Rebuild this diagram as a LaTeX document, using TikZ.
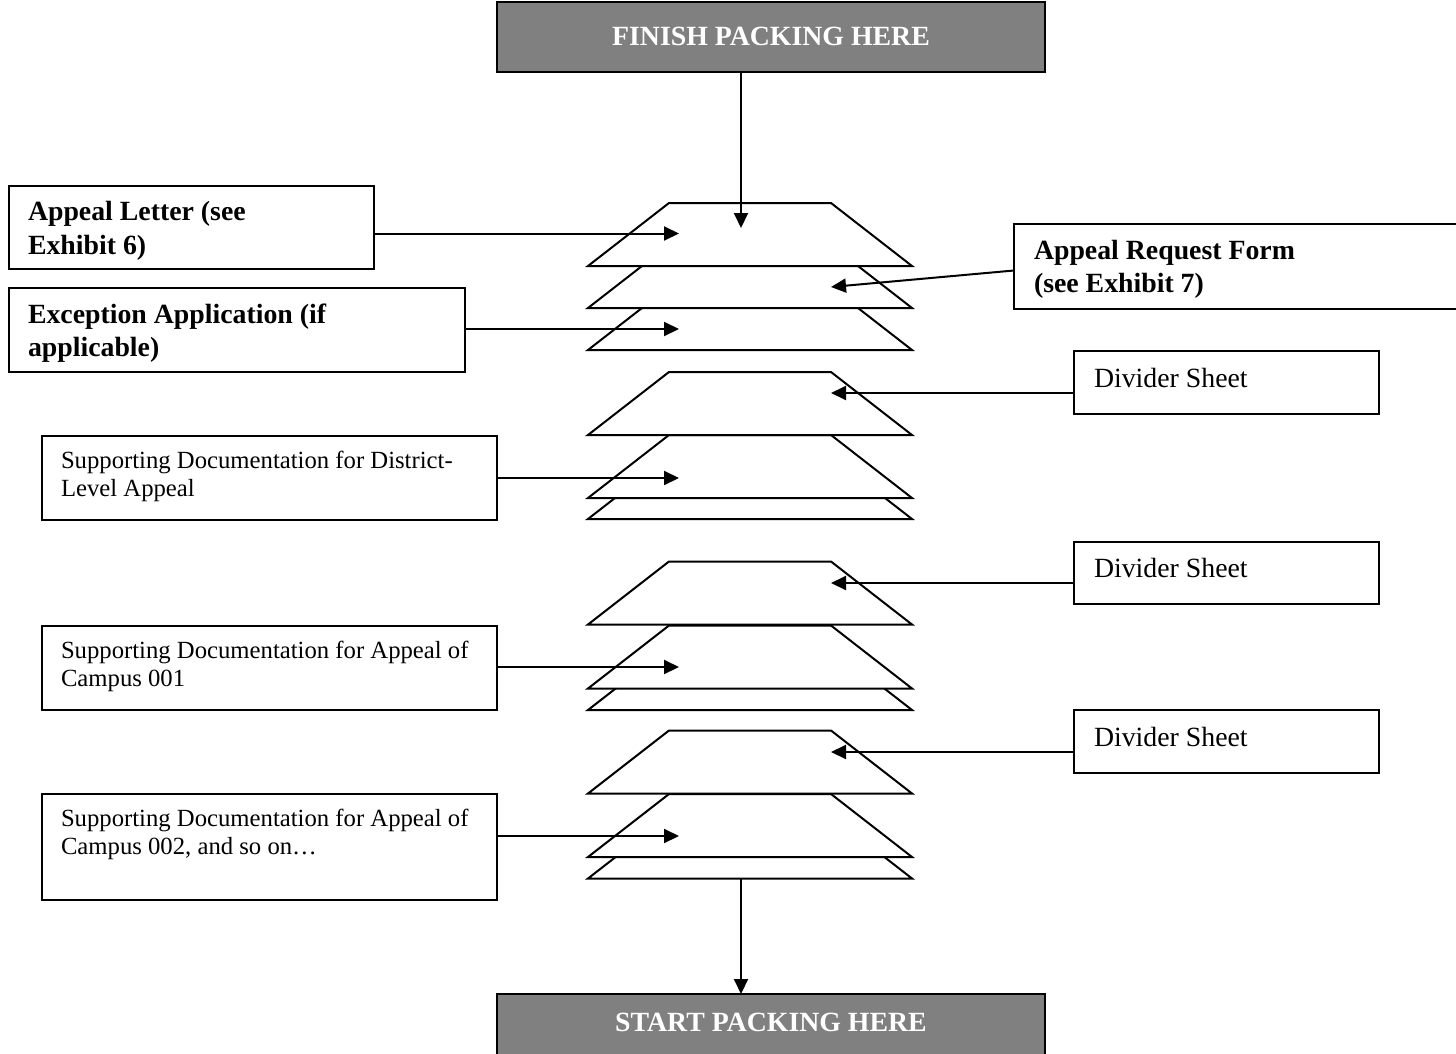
\documentclass[tikz,border=0pt]{standalone}
\usepackage{fontspec}
\setmainfont{Liberation Serif}
\usetikzlibrary{arrows.meta}
\definecolor{bannergray}{RGB}{128,128,128}

\begin{document}
\begin{tikzpicture}[x=1pt, y=-1pt, line width=2pt,
    banner/.style={draw, fill=bannergray, inner sep=0pt, outer sep=0pt, minimum width=548pt, minimum height=70pt},
    docbox/.style={draw, inner sep=0pt, outer sep=0pt},
    bantext/.style={text=white, font=\fontsize{27.8}{32}\selectfont\bfseries, inner sep=0pt, anchor=base},
    boldtext/.style={font=\fontsize{27.8}{33.5}\selectfont\bfseries, align=left, inner sep=0pt, anchor=base west},
    plaintext/.style={font=\fontsize{27.8}{32}\selectfont, align=left, inner sep=0pt, anchor=base west},
    smalltext/.style={font=\fontsize{24.7}{27.5}\selectfont, align=left, inner sep=0pt, anchor=base west},
    sheet/.style={draw, fill=white},
    feed/.style={-{Triangle[length=15pt,width=14pt]}}
  ]
      \useasboundingbox (0,0) rectangle (1456,1054);

      % stacked sheets, back to front
      \foreach \b in {878.5,857,793.5,710,688.5,624.5,519,498,435,350,308,266}
        \draw[sheet] (588,\b) -- (669,{\b-63}) -- (831,{\b-63}) -- (912,\b) -- cycle;

      \node[banner] (finish) at (771,37) {};
      \node[bantext] (finishtxt) at ([yshift=-44pt]finish.north) {FINISH PACKING HERE};

      % base of a two-line label sits on its last line
      \node[docbox, minimum width=365pt, minimum height=83pt] (letter) at (191.5,227.5) {};
      \node[boldtext] (lettertxt) at ([xshift=18pt,yshift=-68pt]letter.north west) {Appeal Letter (see\\Exhibit 6)};

      \node[docbox, minimum width=456pt, minimum height=84pt] (exc) at (237,329.5) {};
      \node[boldtext] (exctxt) at ([xshift=18pt,yshift=-69pt]exc.north west) {Exception Application (if\\applicable)};

      \node[docbox, minimum width=446pt, minimum height=85pt] (form) at (1237,266) {};
      \node[boldtext] (formtxt) at ([xshift=19pt,yshift=-69pt]form.north west) {Appeal Request Form\\(see Exhibit 7)};

      \node[docbox, minimum width=305pt, minimum height=63pt] (div1) at (1226.5,382.5) {};
      \node[plaintext] (div1txt) at ([xshift=19pt,yshift=-36pt]div1.north west) {Divider Sheet};

      \node[docbox, minimum width=455.5pt, minimum height=84pt] (dist) at (269.25,478) {};
      \node[smalltext] (disttxt) at ([xshift=18.5pt,yshift=-60pt]dist.north west) {Supporting Documentation for District-\\Level Appeal};

      \node[docbox, minimum width=305pt, minimum height=62.5pt] (div2) at (1226.5,572.75) {};
      \node[plaintext] (div2txt) at ([xshift=19pt,yshift=-36pt]div2.north west) {Divider Sheet};

      \node[docbox, minimum width=455.5pt, minimum height=84.5pt] (camp1) at (269.25,667.75) {};
      \node[smalltext] (camp1txt) at ([xshift=18.5pt,yshift=-60.5pt]camp1.north west) {Supporting Documentation for Appeal of\\Campus 001};

      \node[docbox, minimum width=305pt, minimum height=62.5pt] (div3) at (1226.5,741.25) {};
      \node[plaintext] (div3txt) at ([xshift=19pt,yshift=-36pt]div3.north west) {Divider Sheet};

      \node[docbox, minimum width=455.5pt, minimum height=106pt] (camp2) at (269.25,847) {};
      \node[smalltext] (camp2txt) at ([xshift=18.5pt,yshift=-60pt]camp2.north west) {Supporting Documentation for Appeal of\\Campus 002, and so on…};

      \node[banner] (start) at (771,1029) {};
      \node[bantext] (starttxt) at ([yshift=-37pt]start.north) {START PACKING HERE};

      % where the arrows meet the sheets
      \coordinate (topin) at (741,228);
      \coordinate (letterin) at (679,233.5);
      \coordinate (formin) at (831,287);
      \coordinate (excin) at (679,329);
      \coordinate (div1in) at (831,393);
      \coordinate (distin) at (679,478);
      \coordinate (div2in) at (831,583);
      \coordinate (camp1in) at (679,667);
      \coordinate (div3in) at (831,752);
      \coordinate (camp2in) at (679,836);
      \coordinate (stackout) at (741,878.5);

      \draw[feed] (finish.south -| topin) -- (topin);
      \draw[feed] (letter.east |- letterin) -- (letterin);
      \draw[feed] ([yshift=-4.5pt]form.west) -- (formin);
      \draw[feed] (exc.east |- excin) -- (excin);
      \draw[feed] (div1.west |- div1in) -- (div1in);
      \draw[feed] (dist.east |- distin) -- (distin);
      \draw[feed] (div2.west |- div2in) -- (div2in);
      \draw[feed] (camp1.east |- camp1in) -- (camp1in);
      \draw[feed] (div3.west |- div3in) -- (div3in);
      \draw[feed] (camp2.east |- camp2in) -- (camp2in);
      \draw[feed] (stackout) -- (start.north -| stackout);
    \end{tikzpicture}
\end{document}
